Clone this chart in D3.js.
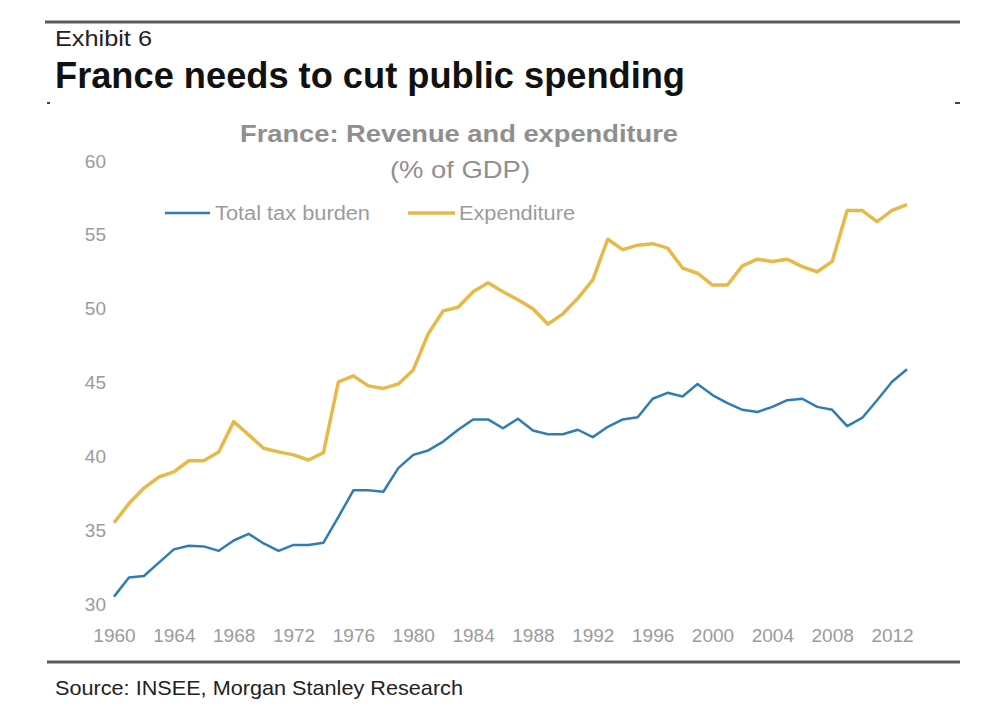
<!DOCTYPE html>
<html>
<head>
<meta charset="utf-8">
<script src="https://cdn.jsdelivr.net/npm/d3@7"></script>
<style>
  html, body { margin: 0; padding: 0; background: #ffffff; }
  svg { display: block; font-family: "Liberation Sans", Arial, sans-serif; }
</style>
</head>
<body>
<svg id="chart" width="992" height="708"></svg>
<script>
// ---- Data ----
const years = d3.range(1960, 2014);
const taxBurden = [
  30.5, 31.8, 31.9, 32.8, 33.7, 33.95, 33.9, 33.6, 34.3, 34.75,
  34.1, 33.6, 34.0, 34.0, 34.15, 35.9, 37.7, 37.7, 37.6, 39.2,
  40.1, 40.4, 41.0, 41.8, 42.5, 42.5, 41.9, 42.55, 41.75, 41.5,
  41.5, 41.8, 41.3, 42.0, 42.5, 42.65, 43.9, 44.3, 44.05, 44.9,
  44.15, 43.6, 43.15, 43.0, 43.35, 43.8, 43.9, 43.35, 43.15, 42.05,
  42.6, 43.8, 45.05, 45.9
];
const expenditure = [
  35.5, 36.8, 37.85, 38.6, 38.95, 39.7, 39.7, 40.3, 42.35, 41.45,
  40.55, 40.3, 40.1, 39.75, 40.25, 45.05, 45.45, 44.77, 44.6, 44.9,
  45.85, 48.3, 49.85, 50.1, 51.15, 51.75, 51.15, 50.6, 50.0, 48.95,
  49.65, 50.7, 51.95, 54.7, 54.0, 54.3, 54.4, 54.1, 52.75, 52.4,
  51.6, 51.6, 52.9, 53.35, 53.2, 53.35, 52.85, 52.5, 53.2, 56.65,
  56.65, 55.9, 56.65, 57.05
];
const seriesNames = ["Total tax burden", "Expenditure"];
const yTicks = [30, 35, 40, 45, 50, 55, 60];
const xTicks = d3.range(1960, 2013, 4);

// ---- Setup ----
const svg = d3.select("#chart");
const colors = { tax: "#2f7db4", exp: "#e7b949" };
const grey = "#9b9b9b";

const x = d3.scaleLinear().domain([1960, 2013]).range([114, 907]);
const y = d3.scaleLinear().domain([30, 60]).range([604, 161]);

// Header rules
svg.append("line").attr("x1", 45).attr("x2", 960).attr("y1", 22).attr("y2", 22)
  .attr("stroke", "#5a5a5a").attr("stroke-width", 3);
svg.append("line").attr("x1", 47).attr("x2", 960).attr("y1", 662).attr("y2", 662)
  .attr("stroke", "#5a5a5a").attr("stroke-width", 3);
svg.append("rect").attr("x", 47).attr("y", 102).attr("width", 3).attr("height", 2).attr("fill", "#444");
svg.append("rect").attr("x", 955).attr("y", 102).attr("width", 5).attr("height", 2).attr("fill", "#444");

svg.append("text").attr("x", 55).attr("y", 46).text("Exhibit 6")
  .attr("font-size", 22).attr("fill", "#222")
  .attr("textLength", 97).attr("lengthAdjust", "spacingAndGlyphs");
svg.append("text").attr("x", 55).attr("y", 88).text("France needs to cut public spending")
  .attr("font-size", 36).attr("font-weight", "bold").attr("fill", "#111")
  .attr("textLength", 630).attr("lengthAdjust", "spacingAndGlyphs");

// Chart title
svg.append("text").attr("x", 459).attr("y", 142).attr("text-anchor", "middle")
  .text("France: Revenue and expenditure")
  .attr("font-size", 24).attr("font-weight", "bold").attr("fill", "#8f8f8f")
  .attr("textLength", 438).attr("lengthAdjust", "spacingAndGlyphs");
svg.append("text").attr("x", 460).attr("y", 178).attr("text-anchor", "middle")
  .text("(% of GDP)")
  .attr("font-size", 24).attr("fill", "#8f8f8f")
  .attr("textLength", 140).attr("lengthAdjust", "spacingAndGlyphs");

// Legend
const legend = [
  { name: seriesNames[0], color: colors.tax, x1: 165, x2: 210, tx: 215, tw: 155, w: 2.5 },
  { name: seriesNames[1], color: colors.exp, x1: 408, x2: 455, tx: 459, tw: 116, w: 3.5 }
];
legend.forEach(l => {
  svg.append("line").attr("x1", l.x1).attr("x2", l.x2).attr("y1", 213).attr("y2", 213)
    .attr("stroke", l.color).attr("stroke-width", l.w);
  svg.append("text").attr("x", l.tx).attr("y", 220).text(l.name)
    .attr("font-size", 20).attr("fill", grey)
    .attr("textLength", l.tw).attr("lengthAdjust", "spacingAndGlyphs");
});

// Axes
const yAxis = svg.append("g").attr("transform", "translate(106,0)")
  .call(d3.axisLeft(y).tickValues(yTicks).tickSize(0).tickPadding(0).tickFormat(d3.format("d")));
yAxis.select(".domain").remove();
yAxis.selectAll("text").attr("font-size", 19).attr("fill", grey)
  .attr("font-family", "Liberation Sans, Arial, sans-serif");

const xAxis = svg.append("g").attr("transform", "translate(0,604)")
  .call(d3.axisBottom(x).tickValues(xTicks).tickSize(0).tickPadding(25).tickFormat(d3.format("d")));
xAxis.select(".domain").remove();
xAxis.selectAll("text").attr("font-size", 19).attr("fill", grey)
  .attr("font-family", "Liberation Sans, Arial, sans-serif");

// Lines
const line = d3.line().x((d, i) => x(years[i])).y(d => y(d));
svg.append("path").datum(expenditure).attr("d", line)
  .attr("fill", "none").attr("stroke", colors.exp).attr("stroke-width", 3.5)
  .attr("stroke-linejoin", "round");
svg.append("path").datum(taxBurden).attr("d", line)
  .attr("fill", "none").attr("stroke", colors.tax).attr("stroke-width", 2.5)
  .attr("stroke-linejoin", "round");

// Source
svg.append("text").attr("x", 55).attr("y", 695).text("Source: INSEE, Morgan Stanley Research")
  .attr("font-size", 21).attr("fill", "#222")
  .attr("textLength", 408).attr("lengthAdjust", "spacingAndGlyphs");
</script>
</body>
</html>
